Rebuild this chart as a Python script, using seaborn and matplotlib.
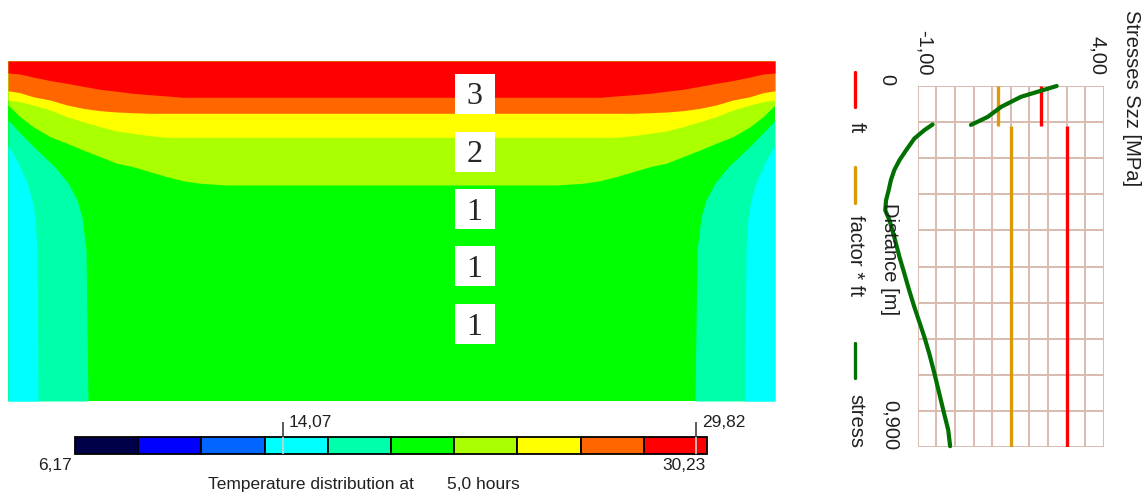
import numpy as np
import matplotlib
matplotlib.use("Agg")
import matplotlib.pyplot as plt
import seaborn as sns
from matplotlib.lines import Line2D

# Figure size in pixels
W, H = 1147, 497

# ---- temperature field (panel pixels, left half; right half is mirrored) ----
panel_w, panel_h = 767, 340
band_x = [0, 12, 25, 42, 59, 75, 92, 109, 125, 142, 159, 175, 192, 219, 383.5]
red_bottom = [12, 13, 16, 19.5, 22.3, 25.3, 28.3, 30.3, 32.3, 33.7, 35, 36.3, 36.3, 36.3, 36.3]
orange_bottom = [29.7, 31.7, 35.7, 39, 44, 47.3, 49.7, 51, 51.7, 52.3, 52.3, 52.3, 52.3, 52.3, 52.3]
yellow_bottom = [39, 40.7, 44, 49, 55.7, 60.7, 65.7, 70, 72.3, 74.7, 76.3, 76.3, 76.3, 76.3, 76.3]
yellowgreen_bottom = [44, 55.7, 65.7, 75.7, 82.3, 89, 95.7, 102.3, 105.7, 110.7, 115.7, 119.7, 122.3, 124, 124]

aqua_depth = [59, 72, 89, 106, 122, 139, 156, 189, 340]
aqua_width = [0, 12, 29, 47, 60, 69, 74, 78, 80]
cyan_depth = [84, 96, 106, 122, 139, 156, 189, 340]
cyan_width = [0, 7, 12, 19, 24, 27, 29, 30]

layer_labels = ["3", "2", "1", "1", "1"]
layer_label_x = [466.5] * 5
layer_label_y = [32.5, 90.5, 147.5, 205, 263]

# ---- colour scale ----
scale_min, scale_max = 6.17, 30.23
scale_colors = ["#000048", "#0000FF", "#0066FF", "#00FFFF", "#00FFAA",
                "#00FF00", "#AAFF00", "#FFFF00", "#FF6600", "#FF0000"]
marker_values = [14.07, 29.82]
marker_labels = ["14,07", "29,82"]

# ---- stress profile ----
dist_top = [0.0, 0.027, 0.052, 0.077, 0.097]
stress_top = [2.73, 1.77, 1.24, 0.88, 0.43]
dist_low = [0.096, 0.110, 0.131, 0.160, 0.185, 0.210, 0.235, 0.260, 0.285, 0.310,
            0.334, 0.376, 0.426, 0.467, 0.509, 0.551, 0.601, 0.626, 0.667, 0.717,
            0.767, 0.817, 0.858, 0.898]
stress_low = [-0.60, -0.82, -1.09, -1.31, -1.49, -1.63, -1.72, -1.78, -1.85, -1.87,
              -1.76, -1.63, -1.49, -1.36, -1.23, -1.09, -0.91, -0.82, -0.69, -0.55,
              -0.42, -0.29, -0.18, -0.13]
layer_start = [0.0, 0.1]
layer_end = [0.1, 0.9]
ft_values = [2.3, 3.0]
factor_ft_values = [1.15, 1.5]

RED = "#FF0000"
ORANGE = "#DC9A0A"
GREEN = "#007000"
GRID = "#D9BCAE"


def fx(x):
    return x / W


def fy(y):
    return 1 - y / H


sns.set_style("white")
plt.rcParams["font.family"] = ["Liberation Sans", "DejaVu Sans"]

fig = plt.figure(figsize=(W / 100, H / 100), dpi=100)

# ---------------- temperature panel ----------------
ax = fig.add_axes([fx(8), fy(401), panel_w / W, panel_h / H])
ax.set_xlim(0, panel_w)
ax.set_ylim(panel_h, 0)
ax.set_axis_off()

bx = np.array(band_x)
x_full = np.concatenate([bx, panel_w - bx[::-1]])
ax.fill_between([0, panel_w], 0, panel_h, color="#00FF00", lw=0)
for bottom, col in [(yellowgreen_bottom, "#AAFF00"), (yellow_bottom, "#FFFF00"),
                    (orange_bottom, "#FF6600"), (red_bottom, "#FF0000")]:
    b = np.array(bottom)
    ax.fill_between(x_full, 0, np.concatenate([b, b[::-1]]), color=col, lw=0)

for depth, width, col in [(aqua_depth, aqua_width, "#00FFAA"),
                          (cyan_depth, cyan_width, "#00FFFF")]:
    wdt = np.array(width)
    ax.fill_betweenx(depth, 0, wdt, color=col, lw=0)
    ax.fill_betweenx(depth, panel_w - wdt, panel_w, color=col, lw=0)

ax.scatter(layer_label_x, layer_label_y, marker="s", s=790, color="white",
           linewidths=0, zorder=5)
for lx, ly, lbl in zip(layer_label_x, layer_label_y, layer_labels):
    ax.text(lx, ly, lbl, fontsize=23, family=["Liberation Serif", "DejaVu Serif"],
            ha="center", va="center_baseline", zorder=6)

# ---------------- colour scale ----------------
cax = fig.add_axes([fx(75), fy(454), 632 / W, 17 / H])
edges = np.linspace(scale_min, scale_max, len(scale_colors) + 1)
cax.bar(edges[:-1], 1, width=np.diff(edges), align="edge", color=scale_colors,
        edgecolor="black", linewidth=1.3, clip_on=False)
cax.set_xlim(scale_min, scale_max)
cax.set_ylim(0, 1)
cax.set_axis_off()
cax.vlines(marker_values, 0, 1, color="#D0D0D0", lw=1.2, zorder=4)
cax.vlines(marker_values, 1, 1.9, color="#404040", lw=1.2, clip_on=False)
for val, lbl in zip(marker_values, marker_labels):
    cax.annotate(lbl, xy=(val, 1), xytext=(6, 10), textcoords="offset pixels",
                 ha="left", va="baseline", fontsize=12.5, color="#202020")
cax.annotate("6,17", xy=(scale_min, 0), xytext=(-3, -4), textcoords="offset pixels",
             ha="right", va="top", fontsize=12.5, color="#202020")
cax.annotate("30,23", xy=(scale_max, 0), xytext=(-1, -4), textcoords="offset pixels",
             ha="right", va="top", fontsize=12.5, color="#202020")
fig.text(fx(208), fy(489), "Temperature distribution at", ha="left", va="baseline",
         fontsize=12.5, color="#202020")
fig.text(fx(447), fy(489), "5,0 hours", ha="left", va="baseline",
         fontsize=12.5, color="#202020")

# ---------------- stress profile (rotated chart) ----------------
sax = fig.add_axes([fx(917.7), fy(447), 186.3 / W, 361 / H])
sax.set_xlim(-1, 4)
sax.set_ylim(0.9, 0)
sax.set_xticks(np.linspace(-1, 4, 11))
sax.set_yticks(np.linspace(0, 0.9, 11))
sax.grid(True, color=GRID, lw=1.4)
sax.tick_params(length=0, labelbottom=False, labelleft=False)
for s in sax.spines.values():
    s.set_visible(False)

sax.vlines(ft_values, layer_start, layer_end, color=RED, lw=2.4, zorder=3)
sax.vlines(factor_ft_values, layer_start, layer_end, color=ORANGE, lw=2.4, zorder=3)
sns.lineplot(x=stress_top, y=dist_top, sort=False, estimator=None, ax=sax,
             color=GREEN, lw=3, clip_on=False, zorder=4)
sns.lineplot(x=stress_low, y=dist_low, sort=False, estimator=None, ax=sax,
             color=GREEN, lw=3, clip_on=False, zorder=4)
sax.set_xlabel("")
sax.set_ylabel("")

rot = dict(rotation=270, fontsize=14.5, color="#202020")
fig.text(fx(1131.7), fy(10), "Stresses Szz [MPa]", ha="center", va="top", **rot)
fig.text(fx(924), fy(75), "-1,00", ha="center", va="bottom", **rot)
fig.text(fx(1097), fy(75), "4,00", ha="center", va="bottom", **rot)
fig.text(fx(887), fy(80), "0", ha="center", va="center", **rot)
fig.text(fx(890), fy(450), "0,900", ha="center", va="bottom", **rot)
fig.text(fx(890), fy(203), "Distance [m]", ha="center", va="top", **rot)

# legend (vertical, as in the rotated chart)
legend_items = [("ft", RED, 72, 107, 122), ("factor * ft", ORANGE, 167, 203, 215),
                ("stress", GREEN, 343, 378, 394)]
for lbl, col, y0, y1, ty in legend_items:
    fig.add_artist(Line2D([fx(855), fx(855)], [fy(y0), fy(y1)], color=col, lw=2.4))
    fig.text(fx(856), fy(ty), lbl, ha="center", va="top", **rot)

fig.savefig("out.png", dpi=100)
